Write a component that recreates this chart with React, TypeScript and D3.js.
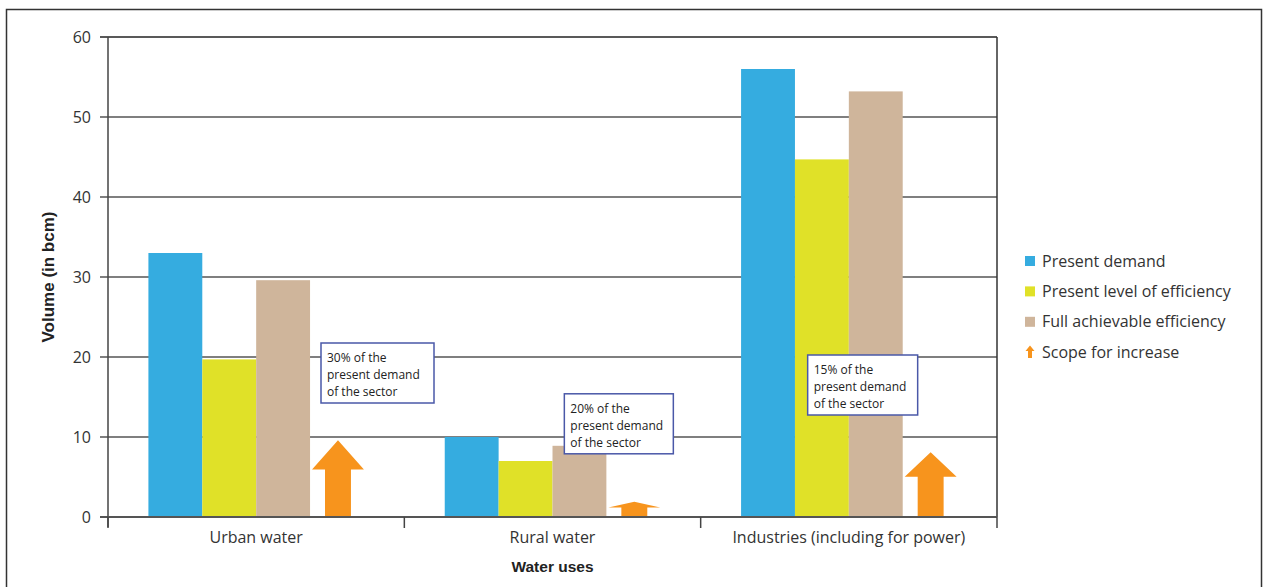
import React from "react";
import * as d3 from "d3";

// categories and series
const categories = ["Urban water", "Rural water", "Industries (including for power)"];
const presentDemand = [33, 10, 56];
const presentEfficiency = [19.7, 7, 44.7];
const fullEfficiency = [29.6, 8.9, 53.2];
const scopeForIncrease = [9.6, 1.9, 8.1];

const seriesNames = ["Present demand", "Present level of efficiency", "Full achievable efficiency", "Scope for increase"];
const seriesColors = ["#35ace0", "#e0e128", "#cfb59b", "#f7941d"];

const yTicks = [0, 10, 20, 30, 40, 50, 60];

// call-out notes (top of box in axis units)
const noteLines = [
  ["30% of the", "present demand", "of the sector"],
  ["20% of the", "present demand", "of the sector"],
  ["15% of the", "present demand", "of the sector"],
];
const noteTop = [21.75, 15.4, 20.25];

const W = 1263;
const H = 587;
const plot = { left: 108, right: 997, top: 37, bottom: 517 };
const noteLeft = [213, 160, 107]; // offset from band start, px
const noteSize = [113, 109, 110];
const FONT = "'Open Sans', sans-serif";

const App = () => {
  const x0 = d3.scaleBand<string>().domain(categories).range([plot.left, plot.right]).padding(0);
  const x1 = d3
    .scaleBand<string>()
    .domain(seriesNames)
    .range([0, x0.bandwidth()])
    .paddingInner(0)
    .paddingOuter(0.75);
  const y = d3.scaleLinear().domain([0, 60]).range([plot.bottom, plot.top]);

  const bars = [presentDemand, presentEfficiency, fullEfficiency];

  const arrowPath = (cx: number, v: number, w: number) => {
    const top = y(v);
    const base = y(0);
    const len = base - top;
    const head = len * 0.38;
    const hw = w / 2;
    const sw = w / 4;
    return d3.line()([
      [cx - sw, base],
      [cx - sw, top + head],
      [cx - hw, top + head],
      [cx, top],
      [cx + hw, top + head],
      [cx + sw, top + head],
      [cx + sw, base],
    ] as [number, number][]) + "Z";
  };

  const bandEdges = [...categories.map((c) => x0(c)!), plot.right];

  return (
    <svg width={W} height={H} style={{ position: "absolute", left: 0, top: 0, background: "#fff" }}>
      {/* outer frame */}
      <rect x={6.5} y={9.5} width={1255} height={600} fill="none" stroke="#333" strokeWidth={1.5} />

      {/* gridlines */}
      {yTicks.map((t) => (
        <line
          key={"g" + t}
          x1={plot.left - 8}
          x2={plot.right}
          y1={y(t)}
          y2={y(t)}
          stroke={t === 60 ? "#222" : "#555"}
          strokeWidth={t === 0 ? 2 : 1.5}
        />
      ))}
      <line x1={plot.right} x2={plot.right} y1={plot.top} y2={plot.bottom} stroke="#333" strokeWidth={1.5} />

      {/* bars */}
      {categories.map((c, ci) =>
        bars.map((vals, si) => (
          <rect
            key={c + si}
            x={x0(c)! + x1(seriesNames[si])!}
            y={y(vals[ci])}
            width={x1.bandwidth()}
            height={y(0) - y(vals[ci])}
            fill={seriesColors[si]}
          />
        ))
      )}

      {/* scope arrows */}
      {categories.map((c, ci) => (
        <path
          key={"a" + c}
          d={arrowPath(x0(c)! + x1(seriesNames[3])! + x1.bandwidth() / 2 + 1, scopeForIncrease[ci], x1.bandwidth() - 2)}
          fill={seriesColors[3]}
        />
      ))}

      {/* axes */}
      <line x1={plot.left} x2={plot.left} y1={plot.top} y2={plot.bottom + 10} stroke="#444" strokeWidth={1.5} />
      <line x1={plot.left} x2={plot.right} y1={plot.bottom} y2={plot.bottom} stroke="#555" strokeWidth={2} />
      {bandEdges.map((e, i) => (
        <line key={"t" + i} x1={e} x2={e} y1={plot.bottom} y2={plot.bottom + 11} stroke="#444" strokeWidth={1.5} />
      ))}
      {yTicks.map((t) => (
        <text key={"yl" + t} x={plot.left - 17} y={y(t)} dy="0.35em" textAnchor="end" fontFamily={FONT} fontSize={16} fill="#333">
          {t}
        </text>
      ))}
      {categories.map((c) => (
        <text
          key={"xl" + c}
          x={x0(c)! + x0.bandwidth() / 2}
          y={543}
          textAnchor="middle"
          fontFamily={FONT}
          fontSize={16}
          fill="#333"
        >
          {c}
        </text>
      ))}
      <text
        transform={`translate(54, ${(plot.top + plot.bottom) / 2}) rotate(-90)`}
        textAnchor="middle"
        fontFamily="'Liberation Sans', Arial, sans-serif"
        fontWeight="bold"
        fontSize={17}
        fill="#222"
      >
        Volume (in bcm)
      </text>
      <text
        x={(plot.left + plot.right) / 2}
        y={572}
        textAnchor="middle"
        fontFamily="'Liberation Sans', Arial, sans-serif"
        fontWeight="bold"
        fontSize={15.5}
        fill="#222"
      >
        Water uses
      </text>

      {/* notes */}
      {categories.map((c, ci) => {
        const bx = x0(c)! + noteLeft[ci];
        const by = y(noteTop[ci]);
        return (
          <g key={"n" + c}>
            <rect x={bx} y={by} width={noteSize[ci]} height={60} fill="#fff" stroke="#4a58a8" strokeWidth={1.5} />
            {noteLines[ci].map((l, li) => (
              <text key={li} x={bx + 6} y={by + 19 + li * 17} fontFamily={FONT} fontSize={12} fill="#222">
                {l}
              </text>
            ))}
          </g>
        );
      })}

      {/* legend */}
      {seriesNames.map((s, i) => {
        const cy = 261 + i * 30.4;
        return (
          <g key={"lg" + s}>
            {i < 3 ? (
              <rect x={1025} y={cy - 5} width={10} height={10} fill={seriesColors[i]} />
            ) : (
              <path d="M1028,358 V351 H1025.5 L1030,345.5 L1034.5,351 H1032 V358 Z" fill={seriesColors[i]} />
            )}
            <text x={1042} y={cy} dy="0.35em" fontFamily={FONT} fontSize={16} fill="#333">
              {s}
            </text>
          </g>
        );
      })}
    </svg>
  );
};

export default App;
